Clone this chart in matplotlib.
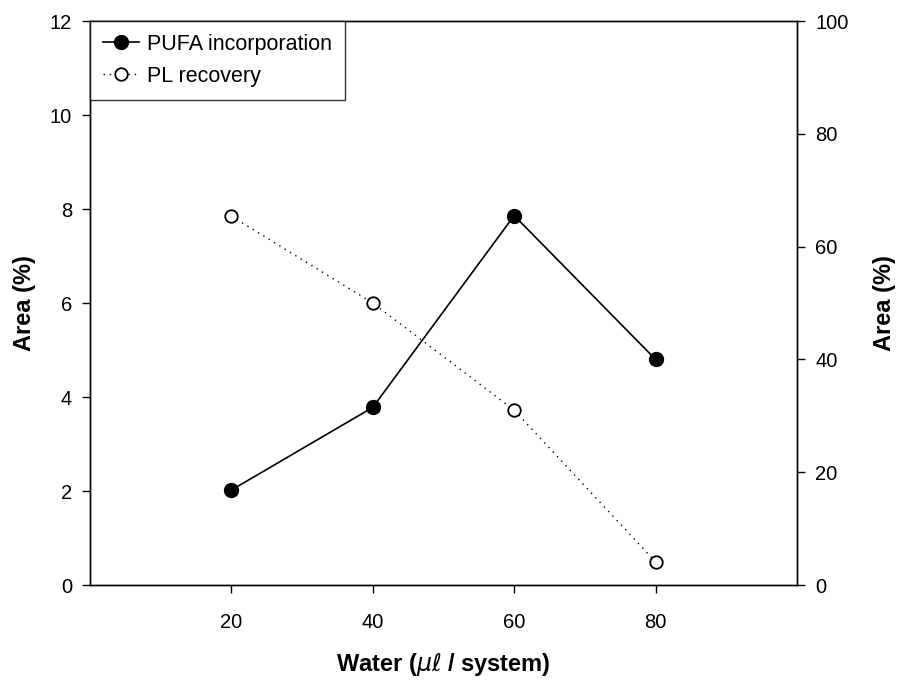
import matplotlib.pyplot as plt

plt.rcParams['font.family'] = ['Liberation Sans', 'DejaVu Sans']
plt.rcParams['mathtext.fontset'] = 'dejavusans'

# Datos
agua = [20, 40, 60, 80]
pufa = [2.02, 3.78, 7.86, 4.80]
pl = [65.4, 50.0, 31.0, 4.1]

fig = plt.figure(figsize=(9.07, 6.82), dpi=100)
ax1 = fig.add_axes([0.0992, 0.1422, 0.7795, 0.827])
ax2 = ax1.twinx()

l1, = ax1.plot(agua, pufa, '-', color='black', lw=1.2, marker='o',
               markersize=10, markerfacecolor='black', label='PUFA incorporation')
l2, = ax2.plot(agua, pl, color='black', lw=1.0, linestyle=(0, (1, 3.5)),
               marker='o', markersize=9, markerfacecolor='white',
               markeredgewidth=1.3, label='PL recovery')

ax1.set_xlim(0, 100)
ax1.set_xticks([20, 40, 60, 80])
ax1.set_ylim(0, 12)
ax1.set_yticks(range(0, 13, 2))
ax2.set_ylim(0, 100)
ax2.set_yticks(range(0, 101, 20))

for ax in (ax1, ax2):
    ax.tick_params(direction='out', length=6, width=1, labelsize=14.5, pad=7)
    for s in ax.spines.values():
        s.set_linewidth(1)
ax1.tick_params(axis='x', pad=14)

ax1.set_xlabel(r'Water ($\mu\ell$ / system)', fontsize=17, fontweight='bold', labelpad=14)
ax1.set_ylabel('Area (%)', fontsize=17, fontweight='bold', labelpad=10)
ax2.set_ylabel('Area (%)', fontsize=17, fontweight='bold', labelpad=18)

leg = ax2.legend(handles=[l1, l2], loc='upper left', borderaxespad=0, fancybox=False,
                 fontsize=15.5, handlelength=1.7, numpoints=1, borderpad=0.6,
                 labelspacing=0.5, handletextpad=0.35)
leg.get_frame().set_edgecolor('black')
leg.get_frame().set_linewidth(1)

fig.savefig('out.png', dpi=100)
